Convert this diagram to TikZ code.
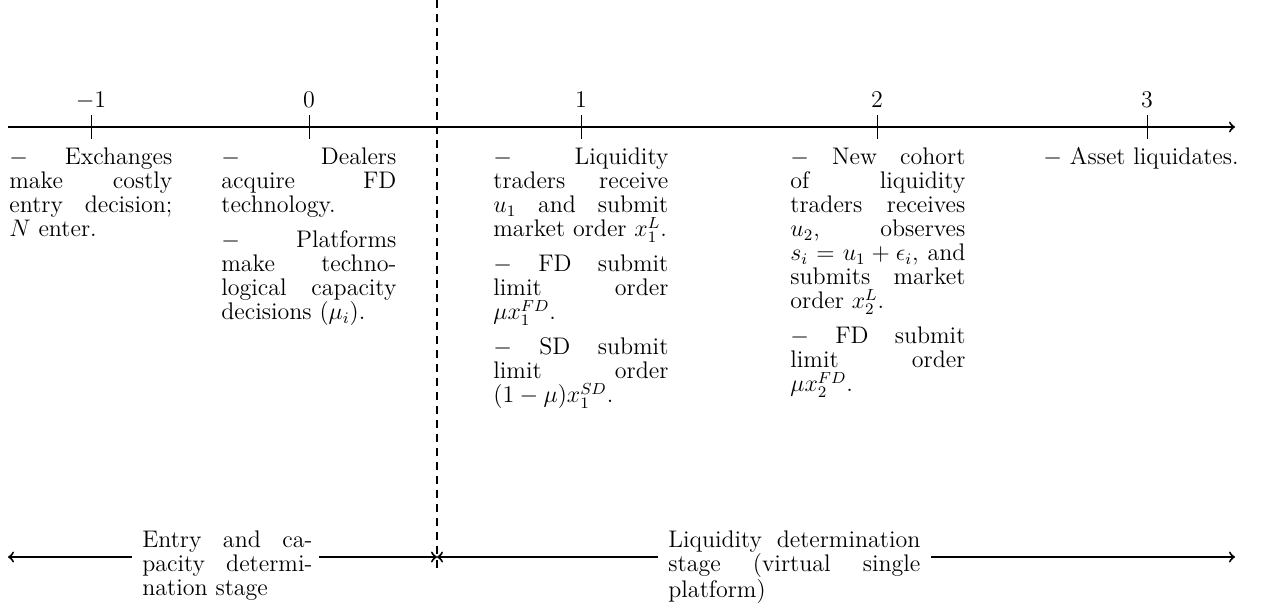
\documentclass[tikz,border=0pt]{standalone}
\usetikzlibrary{arrows}
\begin{document}
\begin{tikzpicture}[x=0.5pt,y=-0.5pt,
  every node/.style={font=\fontsize{12}{12}\selectfont},
  axisline/.style={line width=1pt,->},
  tickline/.style={line width=0.5pt},
  ticklabel/.style={anchor=base,inner sep=0pt},
  blk/.style={inner sep=0pt,text width=87.5pt,align=justify,anchor=base west},
  stagebox/.style={inner sep=0pt,align=justify,anchor=base west},
  stagearrow/.style={line width=1pt},
  sep/.style={line width=1pt,dash pattern=on 4pt off 3pt}]
\useasboundingbox (0,0) rectangle (1263,609);
% main axis
\coordinate (a0) at (8,127);
\coordinate (a1) at (1235,127);
\draw[axisline] (a0) -- (a1);
% ticks
\foreach \x/\l/\n in {91/{-1}/tm, 309/0/t0, 581/1/t1, 877/2/t2, 1147/3/t3}{
  \coordinate (\n) at (\x,127);
  \draw[tickline] ([yshift=6]\n) -- ([yshift=-6]\n);
  \node[ticklabel] (\n l) at (\x,108) {$\l$};
}
% separator
\coordinate (s0) at (437,0);
\coordinate (s1) at (437,568);
\draw[sep] (s0) -- (s1);
% text blocks
\node[blk,text width=81.5pt] (bm) at (9,165) {$-$ Exchanges\linebreak make costly\linebreak entry decision;\linebreak $N$ enter.};
\node[blk] (b0) at (221,165) {$-$ Dealers\linebreak acquire FD\linebreak technology.\par\vspace{5.5pt}
$-$ Platforms\linebreak make techno-\linebreak logical capacity\linebreak decisions ($\mu_i$).};
\node[blk] (b1) at (493,165) {$-$ Liquidity\linebreak traders receive\linebreak $u_1$ and submit\linebreak market order $x_1^L$.\par\vspace{5.5pt}
$-$ FD submit\linebreak limit order\linebreak $\mu x_1^{FD}$.\par\vspace{5.5pt}
$-$ SD submit\linebreak limit order\linebreak $(1-\mu)x_1^{SD}$.};
\node[blk] (b2) at (790,165) {$-$ New cohort\linebreak of liquidity\linebreak traders receives\linebreak $u_2$, observes\linebreak $s_i=u_1+\epsilon_i$, and\linebreak submits market\linebreak order $x_2^L$.\par\vspace{5.5pt}
$-$ FD submit\linebreak limit order\linebreak $\mu x_2^{FD}$.};
\node[inner sep=0pt,anchor=base west] (b3) at (1043,165) {$-$ Asset liquidates.};
% stages
\node[stagebox,text width=85pt] (L) at (142,547) {Entry and ca-\linebreak pacity determi-\linebreak nation stage};
\node[stagebox,text width=126pt] (R) at (668,547) {Liquidity determination\linebreak stage (virtual single\linebreak platform)};
\coordinate (p0) at (8,557);
\coordinate (pm) at (437,557);
\coordinate (p1) at (1235,557);
\draw[stagearrow,<-] (p0) -- ([xshift=-5]L.west |- p0);
\draw[stagearrow,->] ([xshift=3]L.east |- p0) -- (pm);
\draw[stagearrow,<-] (pm) -- ([xshift=-5]R.west |- pm);
\draw[stagearrow,->] ([xshift=5]R.east |- pm) -- (p1);
\end{tikzpicture}
\end{document}
